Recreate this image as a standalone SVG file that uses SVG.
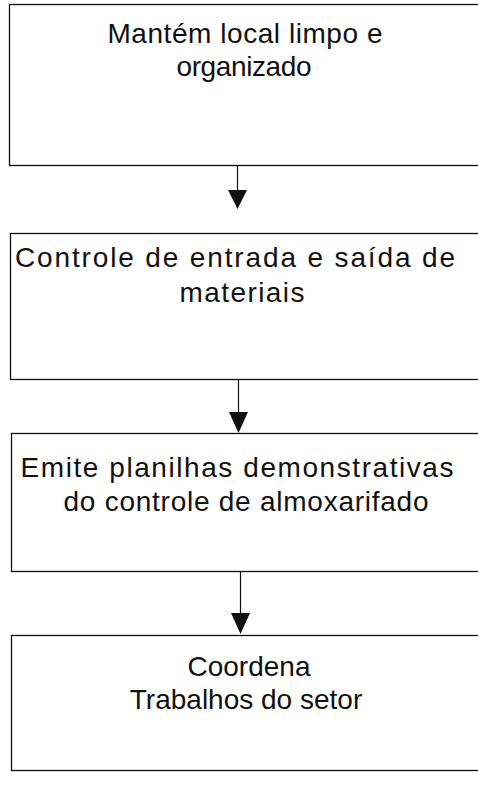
<svg xmlns="http://www.w3.org/2000/svg" width="478" height="788" viewBox="0 0 478 788">
<style>
.box{fill:#fff;stroke:#111;stroke-width:1.3}
.t{font-family:"Liberation Sans",Arial,sans-serif;font-size:28px;fill:#111;text-anchor:middle}
.c{stroke:#111;stroke-width:1.2;fill:none}
.h{fill:#111;stroke:none}
</style>
<rect width="478" height="788" fill="#fff"/>
<g id="n1">
<rect class="box" x="9.5" y="4.5" width="480" height="161"/>
<text class="t" x="245" y="43" textLength="275" lengthAdjust="spacing">Mantém local limpo e</text>
<text class="t" x="244" y="76" textLength="135" lengthAdjust="spacing">organizado</text>
</g>
<g id="n2">
<rect class="box" x="10.5" y="233.5" width="480" height="146"/>
<text class="t" x="235" y="267" textLength="440" lengthAdjust="spacing">Controle de entrada e saída de</text>
<text class="t" x="242" y="302" textLength="125" lengthAdjust="spacing">materiais</text>
</g>
<g id="n3">
<rect class="box" x="11.5" y="433.5" width="480" height="138"/>
<text class="t" x="237" y="477" textLength="433" lengthAdjust="spacing">Emite planilhas demonstrativas</text>
<text class="t" x="246" y="511" textLength="365" lengthAdjust="spacing">do controle de almoxarifado</text>
</g>
<g id="n4">
<rect class="box" x="11.5" y="635.5" width="480" height="135"/>
<text class="t" x="249" y="676">Coordena</text>
<text class="t" x="246" y="709">Trabalhos do setor</text>
</g>
<g id="connectors">
<line class="c" x1="237.5" y1="166" x2="237.5" y2="192"/>
<polygon class="h" points="228,190 247,190 237.5,209"/>
<line class="c" x1="238.5" y1="380" x2="238.5" y2="414"/>
<polygon class="h" points="229,412 248,412 238.5,433"/>
<line class="c" x1="240.5" y1="572" x2="240.5" y2="614"/>
<polygon class="h" points="231,613 250,613 240.5,634"/>
</g>
</svg>
